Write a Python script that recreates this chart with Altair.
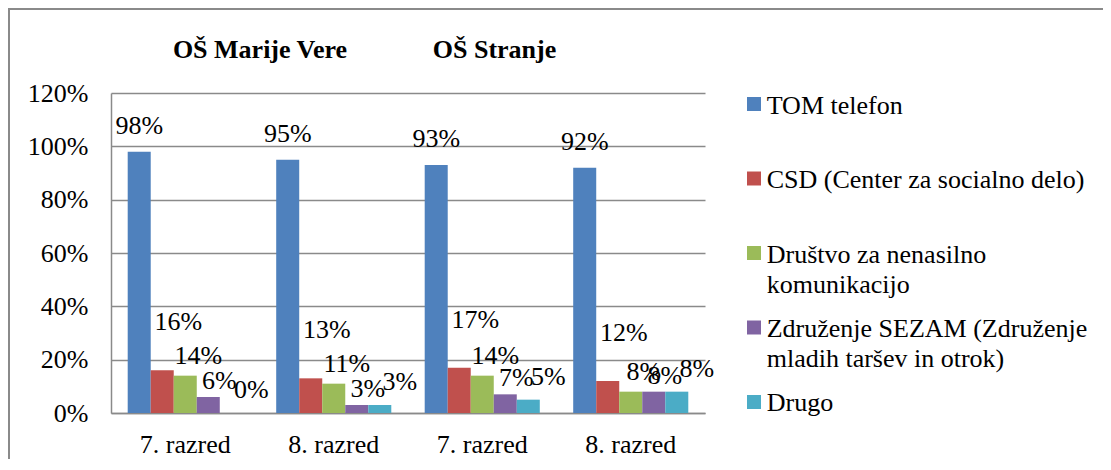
import altair as alt
import pandas as pd

# ---- data ----
schools = ["OŠ Marije Vere", "OŠ Stranje"]
grades = ["7. razred", "8. razred"]
series = [
    "TOM telefon",
    "CSD (Center za socialno delo)",
    "Društvo za nenasilno komunikacijo",
    "Združenje SEZAM (Združenje mladih taršev in otrok)",
    "Drugo",
]
legend_labels = [
    "TOM telefon",
    "CSD (Center za socialno delo)",
    "Društvo za nenasilno\nkomunikacijo",
    "Združenje SEZAM (Združenje\nmladih taršev in otrok)",
    "Drugo",
]
colors = ["#4F81BD", "#C0504D", "#9BBB59", "#8064A2", "#4BACC6"]

# values per group, in series order
marije_7 = [0.98, 0.16, 0.14, 0.06, 0.00]
marije_8 = [0.95, 0.13, 0.11, 0.03, 0.03]
stranje_7 = [0.93, 0.17, 0.14, 0.07, 0.05]
stranje_8 = [0.92, 0.12, 0.08, 0.08, 0.08]

groups = [
    (schools[0], grades[0], marije_7),
    (schools[0], grades[1], marije_8),
    (schools[1], grades[0], stranje_7),
    (schools[1], grades[1], stranje_8),
]
rows = []
keys = []
for school, grade, vals in groups:
    key = f"{school}|{grade}"
    keys.append(key)
    for s, v in zip(series, vals):
        rows.append({"key": key, "series": s, "value": v})
df = pd.DataFrame(rows)
legend_df = pd.DataFrame({"series": series, "label": legend_labels})

FONT = "Liberation Serif"
FS = 26
GRID = "#8a8a8a"

x_scale = alt.Scale(domain=keys, paddingInner=0.225, paddingOuter=0.1125)
xo_scale = alt.Scale(domain=series, paddingInner=0, paddingOuter=0)
y_scale = alt.Scale(domain=[0, 1.2], nice=False)
color_scale = alt.Scale(domain=series, range=colors)

base = alt.Chart(df)

bars = base.mark_bar().encode(
    x=alt.X(
        "key:N",
        scale=x_scale,
        sort=keys,
        axis=alt.Axis(
            title=None,
            labelExpr="split(datum.label, '|')[1]",
            labelAngle=0,
            ticks=False,
            labelFont=FONT,
            labelFontSize=FS,
            labelColor="black",
            labelPadding=18,
            domainColor=GRID,
            domainWidth=1.5,
            grid=False,
        ),
    ),
    xOffset=alt.XOffset("series:N", scale=xo_scale, sort=series),
    y=alt.Y(
        "value:Q",
        scale=y_scale,
        axis=alt.Axis(
            title=None,
            values=[0, 0.2, 0.4, 0.6, 0.8, 1.0, 1.2],
            format=".0%",
            ticks=False,
            labelFont=FONT,
            labelFontSize=FS,
            labelColor="black",
            labelPadding=23,
            domainColor=GRID,
            domainWidth=1.5,
            grid=True,
            gridColor=GRID,
            gridWidth=1.5,
        ),
    ),
    color=alt.Color("series:N", scale=color_scale, legend=None),
)

# data labels, offset per series like the original
label_style = {
    series[0]: (0, -26),
    series[1]: (16, -48),
    series[2]: (13, -20),
    series[3]: (11, -16),
    series[4]: (20, -23),
}
label_layers = []
for s in series:
    dx, dy = label_style[s]
    label_layers.append(
        base.transform_filter(alt.datum.series == s)
        .mark_text(font=FONT, fontSize=FS, color="black", baseline="middle", dx=dx, dy=dy)
        .encode(
            x=alt.X("key:N", scale=x_scale, sort=keys),
            xOffset=alt.XOffset("series:N", scale=xo_scale, sort=series),
            y=alt.Y("value:Q", scale=y_scale),
            text=alt.Text("value:Q", format=".0%"),
        )
    )

main = alt.layer(bars, *label_layers)

# school titles
one = alt.Data(values=[{"a": 1}])
title1 = alt.Chart(one).mark_text(
    font=FONT, fontSize=FS, fontWeight="bold", color="black", align="center", baseline="alphabetic"
).encode(x=alt.value(149), y=alt.value(-35), text=alt.value(schools[0]))
title2 = alt.Chart(one).mark_text(
    font=FONT, fontSize=FS, fontWeight="bold", color="black", align="center", baseline="alphabetic"
).encode(x=alt.value(383.5), y=alt.value(-35), text=alt.value(schools[1]))

# outer border
border = alt.Chart(one).mark_rect(fillOpacity=0, stroke="#8a8a8a", strokeWidth=2).encode(
    x=alt.value(-102), x2=alt.value(1200), y=alt.value(-84), y2=alt.value(700)
)

# legend built from the series list
leg_y = alt.Y("series:N", scale=alt.Scale(type="point", domain=series, padding=0.1477), axis=None)
leg_sq = alt.Chart(legend_df).mark_square(size=196, opacity=1).encode(
    x=alt.value(643),
    y=leg_y,
    color=alt.Color("series:N", scale=color_scale, legend=None),
)
leg_txt = alt.Chart(legend_df).mark_text(
    font=FONT, fontSize=FS, color="black", align="left", baseline="top",
    dy=-11.5, lineBreak="\n", lineHeight=30,
).encode(x=alt.value(655.7), y=leg_y, text="label:N")
legend = alt.layer(leg_sq, leg_txt)

chart = (
    alt.layer(border, main, title1, title2, legend)
    .resolve_scale(y="independent")
    .properties(
        width=594,
        height=320,
        autosize=alt.AutoSizeParams(type="none"),
        padding={"left": 103, "top": 85, "right": 398, "bottom": 46},
    )
    .configure_view(stroke=None)
)

chart.save("out.html", embed_options={"renderer": "svg", "actions": False})
